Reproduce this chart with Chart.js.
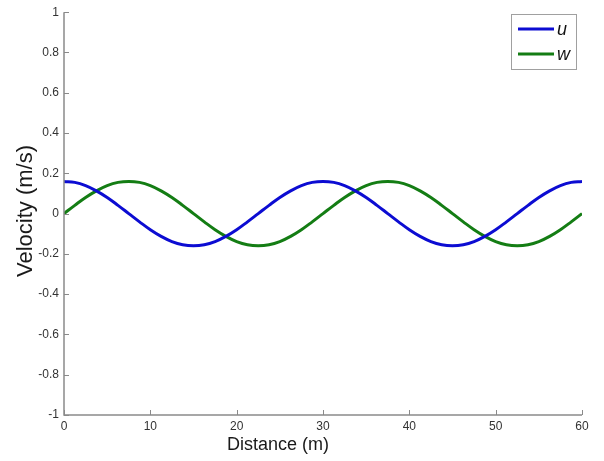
<!DOCTYPE html>
<html>
<head>
<meta charset="utf-8">
<script src="https://cdn.jsdelivr.net/npm/chart.js@4"></script>
<style>
  html, body { margin: 0; padding: 0; background: #fff; }
  #wrap { width: 604px; height: 461px; }
</style>
</head>
<body>
<div id="wrap"><canvas id="velChart" width="604" height="461"></canvas></div>
<script>
// distance samples (m)
const distance = [
  0, 1.25, 2.5, 3.75, 5, 6.25, 7.5, 8.75, 10, 11.25, 12.5, 13.75,
  15, 16.25, 17.5, 18.75, 20, 21.25, 22.5, 23.75, 25, 26.25, 27.5, 28.75,
  30, 31.25, 32.5, 33.75, 35, 36.25, 37.5, 38.75, 40, 41.25, 42.5, 43.75,
  45, 46.25, 47.5, 48.75, 50, 51.25, 52.5, 53.75, 55, 56.25, 57.5, 58.75, 60
];

// u velocity
const uVel = [
  0.16, 0.155, 0.139, 0.113, 0.08, 0.041, 0, -0.041, -0.08, -0.113, -0.139, -0.155,
  -0.16, -0.155, -0.139, -0.113, -0.08, -0.041, 0, 0.041, 0.08, 0.113, 0.139, 0.155,
  0.16, 0.155, 0.139, 0.113, 0.08, 0.041, 0, -0.041, -0.08, -0.113, -0.139, -0.155,
  -0.16, -0.155, -0.139, -0.113, -0.08, -0.041, 0, 0.041, 0.08, 0.113, 0.139, 0.155, 0.16
];

// w velocity
const wVel = [
  0, 0.041, 0.08, 0.113, 0.139, 0.155, 0.16, 0.155, 0.139, 0.113, 0.08, 0.041,
  0, -0.041, -0.08, -0.113, -0.139, -0.155, -0.16, -0.155, -0.139, -0.113, -0.08, -0.041,
  0, 0.041, 0.08, 0.113, 0.139, 0.155, 0.16, 0.155, 0.139, 0.113, 0.08, 0.041,
  0, -0.041, -0.08, -0.113, -0.139, -0.155, -0.16, -0.155, -0.139, -0.113, -0.08, -0.041, 0
];

// tick labels
const xTicks = [0, 10, 20, 30, 40, 50, 60];
const yTicks = [-1, -0.8, -0.6, -0.4, -0.2, 0, 0.2, 0.4, 0.6, 0.8, 1];

const xTitle = 'Distance (m)';
const yTitle = 'Velocity (m/s)';

const axisColor = '#8a8a8a';
const fontFam = 'Liberation Sans, Arial, sans-serif';
const tickFont = { family: fontFam, size: 12 };

// MATLAB style: left + bottom axis lines with inward ticks, plus axis titles
const axesPlugin = {
  id: 'matlabAxes',
  afterDatasetsDraw(chart) {
    const { ctx, chartArea: a, scales: { x, y } } = chart;
    ctx.save();
    ctx.strokeStyle = axisColor;
    ctx.lineWidth = 1.5;
    ctx.beginPath();
    ctx.moveTo(a.left, a.top);
    ctx.lineTo(a.left, a.bottom);
    ctx.lineTo(a.right, a.bottom);
    ctx.stroke();
    ctx.lineWidth = 1;
    ctx.beginPath();
    yTicks.forEach(v => {
      const py = Math.round(y.getPixelForValue(v)) + 0.5;
      ctx.moveTo(a.left, py);
      ctx.lineTo(a.left + 5, py);
    });
    xTicks.forEach(v => {
      const px = Math.round(x.getPixelForValue(v)) + 0.5;
      ctx.moveTo(px, a.bottom);
      ctx.lineTo(px, a.bottom - 5);
    });
    ctx.stroke();

    // axis titles
    ctx.fillStyle = '#1a1a1a';
    ctx.textAlign = 'center';
    ctx.textBaseline = 'middle';
    ctx.font = '18px ' + fontFam;
    ctx.fillText(xTitle, 278, 445);
    ctx.translate(26, 211);
    ctx.rotate(-Math.PI / 2);
    ctx.font = '22px ' + fontFam;
    ctx.fillText(yTitle, 0, 0);
    ctx.restore();
  }
};

// boxed legend in the top right corner
const legendPlugin = {
  id: 'boxLegend',
  afterDraw(chart) {
    const { ctx } = chart;
    const left = 511, top = 14, w = 65, h = 55;
    ctx.save();
    ctx.fillStyle = '#fff';
    ctx.fillRect(left, top, w, h);
    ctx.strokeStyle = '#a0a0a0';
    ctx.lineWidth = 1;
    ctx.strokeRect(left + 0.5, top + 0.5, w, h);
    ctx.font = 'italic 18px ' + fontFam;
    ctx.textBaseline = 'middle';
    chart.data.datasets.forEach((ds, i) => {
      const cy = top + 15 + i * 25;
      ctx.strokeStyle = ds.borderColor;
      ctx.lineWidth = 3;
      ctx.beginPath();
      ctx.moveTo(left + 7, cy);
      ctx.lineTo(left + 43, cy);
      ctx.stroke();
      ctx.fillStyle = '#111';
      ctx.fillText(ds.label, left + 46, cy + 1);
    });
    ctx.restore();
  }
};

new Chart(document.getElementById('velChart').getContext('2d'), {
  type: 'line',
  data: {
    datasets: [
      {
        label: 'u',
        data: distance.map((d, i) => ({ x: d, y: uVel[i] })),
        borderColor: '#0c0cd2',
        borderWidth: 3,
        pointRadius: 0,
        tension: 0.4,
        fill: false
      },
      {
        label: 'w',
        data: distance.map((d, i) => ({ x: d, y: wVel[i] })),
        borderColor: '#147d14',
        borderWidth: 3,
        pointRadius: 0,
        tension: 0.4,
        fill: false
      }
    ]
  },
  options: {
    responsive: false,
    animation: false,
    layout: { padding: { top: 7, right: 22, left: 0, bottom: 0 } },
    plugins: {
      legend: { display: false },
      tooltip: { enabled: false }
    },
    scales: {
      x: {
        type: 'linear',
        min: 0,
        max: 60,
        afterBuildTicks: s => { s.ticks = xTicks.map(v => ({ value: v })); },
        afterFit: s => { s.height = 46; },
        grid: { display: false, drawTicks: false },
        border: { display: false },
        ticks: { color: '#333', font: tickFont, padding: 4, maxRotation: 0, callback: v => String(v) }
      },
      y: {
        type: 'linear',
        min: -1,
        max: 1,
        afterBuildTicks: s => { s.ticks = yTicks.map(v => ({ value: v })); },
        afterFit: s => { s.width = 64; },
        grid: { display: false, drawTicks: false },
        border: { display: false },
        ticks: { color: '#333', font: tickFont, padding: 5, callback: v => String(v) }
      }
    }
  },
  plugins: [axesPlugin, legendPlugin]
});
</script>
</body>
</html>
